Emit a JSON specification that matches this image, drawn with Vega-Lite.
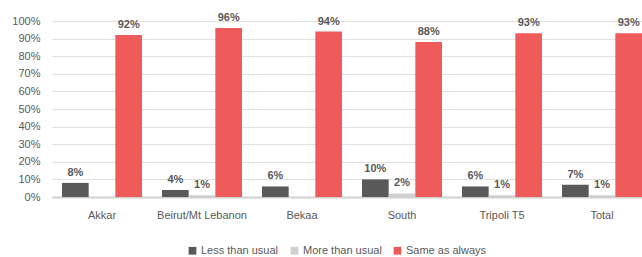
{
  "$schema": "https://vega.github.io/schema/vega-lite/v6.json",
  "width": 600,
  "height": 176,
  "autosize": "none",
  "padding": {"left": 52, "top": 21, "right": 0, "bottom": 60},
  "background": "white",
  "config": {
    "view": {"stroke": null},
    "font": "Liberation Sans"
  },
  "data": {
    "values": [
      {"region": "Akkar", "series": "Less than usual", "value": 8},
      {"region": "Akkar", "series": "More than usual", "value": 0},
      {"region": "Akkar", "series": "Same as always", "value": 92},
      {"region": "Beirut/Mt Lebanon", "series": "Less than usual", "value": 4},
      {"region": "Beirut/Mt Lebanon", "series": "More than usual", "value": 1},
      {"region": "Beirut/Mt Lebanon", "series": "Same as always", "value": 96},
      {"region": "Bekaa", "series": "Less than usual", "value": 6},
      {"region": "Bekaa", "series": "More than usual", "value": 0},
      {"region": "Bekaa", "series": "Same as always", "value": 94},
      {"region": "South", "series": "Less than usual", "value": 10},
      {"region": "South", "series": "More than usual", "value": 2},
      {"region": "South", "series": "Same as always", "value": 88},
      {"region": "Tripoli T5", "series": "Less than usual", "value": 6},
      {"region": "Tripoli T5", "series": "More than usual", "value": 1},
      {"region": "Tripoli T5", "series": "Same as always", "value": 93},
      {"region": "Total", "series": "Less than usual", "value": 7},
      {"region": "Total", "series": "More than usual", "value": 1},
      {"region": "Total", "series": "Same as always", "value": 93}
    ]
  },
  "encoding": {
    "x": {
      "field": "region",
      "type": "nominal",
      "sort": ["Akkar", "Beirut/Mt Lebanon", "Bekaa", "South", "Tripoli T5", "Total"],
      "scale": {"paddingInner": 0.2, "paddingOuter": 0.1},
      "axis": {
        "title": null,
        "labelAngle": 0,
        "ticks": false,
        "labelPadding": 12,
        "labelFontSize": 11,
        "labelColor": "#595959",
        "domainColor": "#d0d0d0",
        "domainWidth": 2
      }
    },
    "xOffset": {
      "field": "series",
      "sort": ["Less than usual", "More than usual", "Same as always"],
      "scale": {"paddingInner": 0, "paddingOuter": 0}
    },
    "y": {
      "field": "value",
      "type": "quantitative",
      "scale": {"domain": [0, 100]},
      "axis": {
        "title": null,
        "values": [0, 10, 20, 30, 40, 50, 60, 70, 80, 90, 100],
        "labelExpr": "datum.value + '%'",
        "domain": false,
        "ticks": false,
        "labelPadding": 12,
        "labelFontSize": 11,
        "labelColor": "#595959",
        "gridColor": "#e0e0e0",
        "gridWidth": 1
      }
    }
  },
  "layer": [
    {
      "mark": {"type": "bar"},
      "encoding": {
        "color": {
          "field": "series",
          "type": "nominal",
          "sort": ["Less than usual", "More than usual", "Same as always"],
          "scale": {
            "domain": ["Less than usual", "More than usual", "Same as always"],
            "range": ["#595959", "#d0d0d0", "#ef5a5b"]
          },
          "legend": {
            "title": null,
            "orient": "none",
            "legendX": 135,
            "legendY": 224,
            "direction": "horizontal",
            "symbolType": "square",
            "symbolSize": 60,
            "symbolStrokeWidth": 0,
            "labelFontSize": 11,
            "labelColor": "#595959",
            "labelOffset": 3,
            "columnPadding": 10
          }
        }
      }
    },
    {
      "transform": [{"filter": "datum.value > 0"}],
      "mark": {
        "type": "text",
        "dy": -10,
        "fontWeight": "bold",
        "fontSize": 11,
        "color": "#595959",
        "text": {"expr": "datum.value + '%'"}
      }
    }
  ]
}
